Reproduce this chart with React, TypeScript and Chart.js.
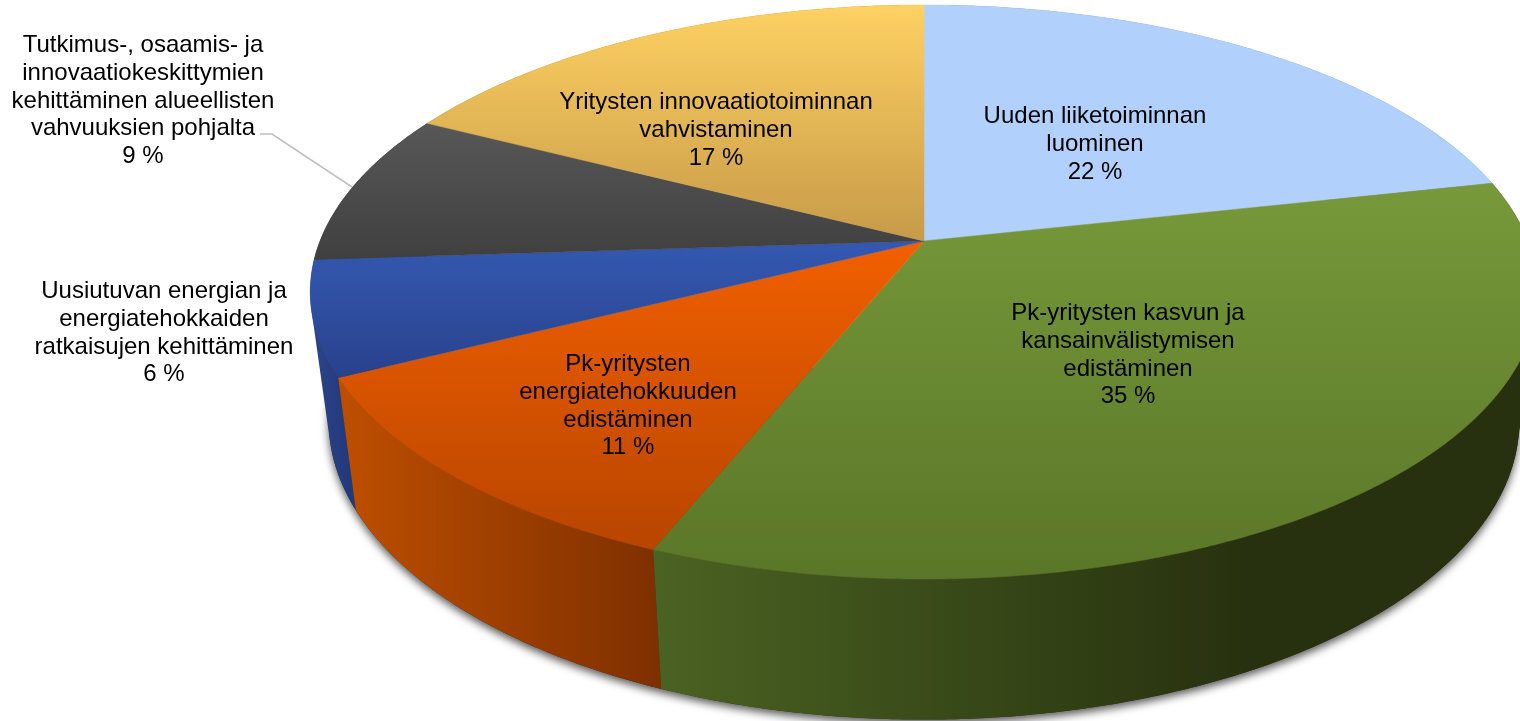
import React, { useEffect, useRef } from "react";
import { Chart, registerables } from "chart.js";

Chart.register(...registerables);

const categories = [
  "Uuden liiketoiminnan luominen",
  "Pk-yritysten kasvun ja kansainvälistymisen edistäminen",
  "Pk-yritysten energiatehokkuuden edistäminen",
  "Uusiutuvan energian ja energiatehokkaiden ratkaisujen kehittäminen",
  "Tutkimus-, osaamis- ja innovaatiokeskittymien kehittäminen alueellisten vahvuuksien pohjalta",
  "Yritysten innovaatiotoiminnan vahvistaminen",
];
const values = [21.5, 34.5, 11.4, 6.4, 8.6, 17.4];
const labelLines = [
  ["Uuden liiketoiminnan", "luominen"],
  ["Pk-yritysten kasvun ja", "kansainvälistymisen", "edistäminen"],
  ["Pk-yritysten", "energiatehokkuuden", "edistäminen"],
  ["Uusiutuvan energian ja", "energiatehokkaiden", "ratkaisujen kehittäminen"],
  ["Tutkimus-, osaamis- ja", "innovaatiokeskittymien", "kehittäminen alueellisten", "vahvuuksien pohjalta"],
  ["Yritysten innovaatiotoiminnan", "vahvistaminen"],
];
const baseColors = ["#b1d0fb", "#6b8c33", "#dc5400", "#2f4f9f", "#4a4a4a", "#e4b858"];

// presentation tables
const labelCenterX = [1095, 1128, 628, 164, 143, 716];
const labelFirstY = [116.5, 313.5, 364.5, 291.5, 45.5, 102.5];
const topGradients: [number, string, number, string][] = [
  [5, "#b1d0fb", 240, "#b1d0fb"],
  [185, "#77993a", 580, "#5a7628"],
  [240, "#f26000", 550, "#b84500"],
  [240, "#3459b2", 385, "#28408a"],
  [125, "#575757", 262, "#3f3f3f"],
  [5, "#fed163", 241, "#c79a48"],
];
const wallGradients: [number, string, number, string][] = [
  [900, "#5a7ca8", 1500, "#5a7ca8"],
  [655, "#4a6222", 1250, "#27310f"],
  [345, "#bd4e00", 665, "#7d2f00"],
  [310, "#2d4689", 360, "#1f3679"],
  [310, "#333333", 430, "#333333"],
  [430, "#8c6c30", 924, "#8c6c30"],
];
const wallOrder = [5, 4, 0, 3, 2, 1];

const CX = 924;
const CY = 241;
const RX = 604;
const RY = 278;
const PERSP = 0.1776;
const WALL_SX = 0.97;
const WALL_D = 127;
const WALL_K = 0.04;

const topPt = (a: number): [number, number] => {
  const u = Math.cos(a);
  const v = Math.sin(a);
  const w = 1 / (1 - PERSP * v);
  return [CX + RX * u * w, CY + RY * v * w];
};
const botPt = (a: number): [number, number] => {
  const [x, y] = topPt(a);
  return [CX + (x - CX) * WALL_SX, y + WALL_D + WALL_K * (y - CY)];
};

const STEP = Math.PI / 360;
const sampleAngles = (s: number, e: number) => {
  const out: number[] = [];
  const n = Math.max(1, Math.ceil((e - s) / STEP));
  for (let i = 0; i <= n; i++) out.push(s + ((e - s) * i) / n);
  return out;
};

const pie3d = {
  id: "pie3d",
  beforeDatasetsDraw(chart: any) {
    const ctx: CanvasRenderingContext2D = chart.ctx;
    const arcs = chart.getDatasetMeta(0).data as any[];

    // side wall path: one sub-quad per sample, all wound the same way
    const addWall = (s: number, e: number) => {
      const ang = sampleAngles(s, e);
      for (let k = 0; k < ang.length - 1; k++) {
        const q = [topPt(ang[k]), topPt(ang[k + 1]), botPt(ang[k + 1]), botPt(ang[k])];
        let area = 0;
        for (let m = 0; m < 4; m++) {
          const p = q[m];
          const r = q[(m + 1) % 4];
          area += p[0] * r[1] - r[0] * p[1];
        }
        const pts = area < 0 ? [...q].reverse() : q;
        ctx.moveTo(pts[0][0], pts[0][1]);
        for (let m = 1; m < 4; m++) ctx.lineTo(pts[m][0], pts[m][1]);
        ctx.closePath();
      }
    };

    // soft cast shadow of the front half of the base ring
    ctx.save();
    ctx.beginPath();
    sampleAngles(0, Math.PI).forEach((a, k) => {
      const [x, y] = botPt(a);
      if (k === 0) ctx.moveTo(x, y);
      else ctx.lineTo(x, y);
    });
    ctx.closePath();
    ctx.shadowColor = "rgba(0,0,0,0.65)";
    ctx.shadowBlur = 8;
    ctx.shadowOffsetY = 4;
    ctx.shadowOffsetX = 0;
    ctx.fillStyle = "#2a3414";
    ctx.fill();
    ctx.restore();

    // side walls, back to front
    wallOrder.forEach((i) => {
      const arc = arcs[i];
      const g = wallGradients[i];
      const grad = ctx.createLinearGradient(g[0], 0, g[2], 0);
      grad.addColorStop(0, g[1]);
      grad.addColorStop(1, g[3]);
      ctx.beginPath();
      addWall(arc.startAngle, arc.endAngle);
      ctx.fillStyle = grad;
      ctx.fill("nonzero");
    });

    // top faces
    arcs.forEach((arc, i) => {
      const g = topGradients[i];
      const grad = ctx.createLinearGradient(0, g[0], 0, g[2]);
      grad.addColorStop(0, g[1]);
      grad.addColorStop(1, g[3]);
      ctx.beginPath();
      ctx.moveTo(CX, CY);
      sampleAngles(arc.startAngle, arc.endAngle).forEach((a) => {
        const [x, y] = topPt(a);
        ctx.lineTo(x, y);
      });
      ctx.closePath();
      ctx.fillStyle = grad;
      ctx.strokeStyle = grad;
      ctx.lineWidth = 0.5;
      ctx.fill();
      ctx.stroke();
    });
    return false;
  },
  afterDraw(chart: any) {
    const ctx: CanvasRenderingContext2D = chart.ctx;
    ctx.save();
    // leader line of the fifth category
    ctx.strokeStyle = "#bfbfbf";
    ctx.lineWidth = 1.5;
    ctx.beginPath();
    ctx.moveTo(260, 134);
    ctx.lineTo(272, 134);
    ctx.lineTo(352, 187);
    ctx.stroke();

    ctx.fillStyle = "#000";
    ctx.font = '24px "Liberation Sans"';
    ctx.textAlign = "center";
    ctx.textBaseline = "middle";
    const PITCH = 27.75;
    labelLines.forEach((lines, i) => {
      [...lines, `${Math.round(values[i])} %`].forEach((t, k) => {
        ctx.fillText(t, labelCenterX[i], labelFirstY[i] + k * PITCH);
      });
    });
    ctx.restore();
  },
};

export default function App() {
  const ref = useRef<HTMLCanvasElement>(null);
  useEffect(() => {
    document.body.style.margin = "0";
    const chart = new Chart(ref.current as HTMLCanvasElement, {
      type: "pie",
      data: {
        labels: categories,
        datasets: [{ data: values, backgroundColor: baseColors, borderWidth: 0 }],
      },
      options: {
        animation: false,
        responsive: false,
        plugins: { legend: { display: false }, tooltip: { enabled: false } },
      },
      plugins: [pie3d],
    } as any);
    return () => chart.destroy();
  }, []);
  return (
    <div style={{ position: "absolute", left: 0, top: 0, width: 1520, height: 721, overflow: "hidden", background: "#fff" }}>
      <canvas ref={ref} width={1520} height={721} style={{ display: "block" }} />
    </div>
  );
}
